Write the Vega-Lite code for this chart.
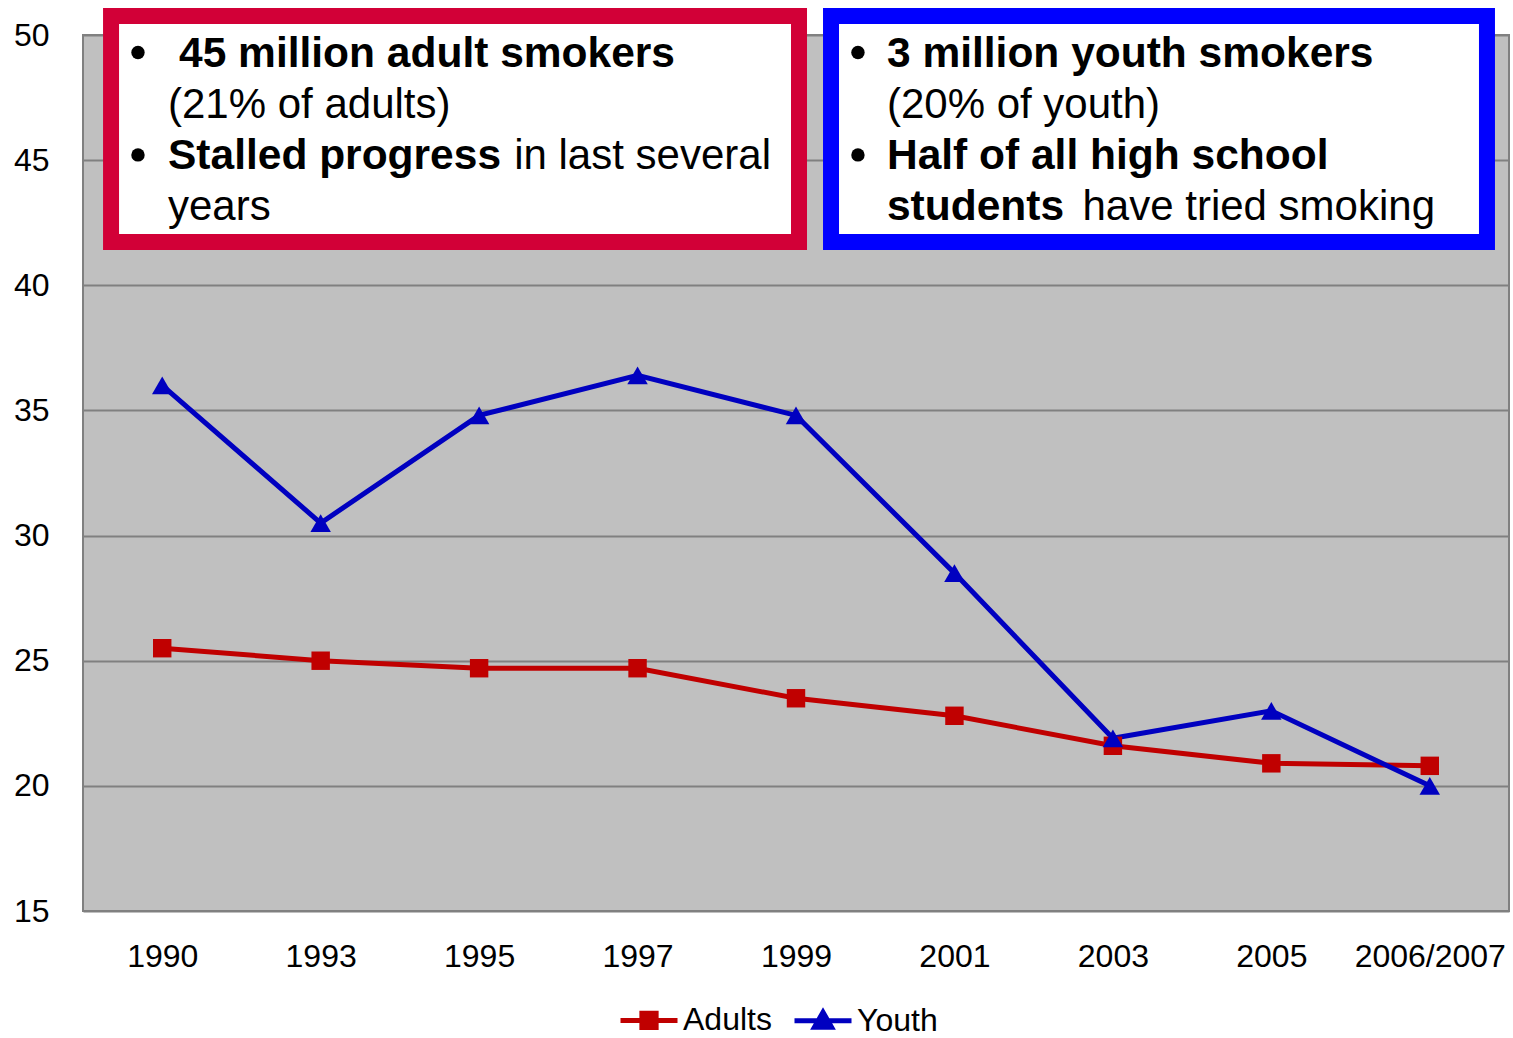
{
  "$schema": "https://vega.github.io/schema/vega-lite/v6.json",
  "width": 1426,
  "height": 876,
  "autosize": "none",
  "padding": {"left": 83, "top": 35, "right": 4, "bottom": 127},
  "background": "white",
  "config": {
    "view": {"fill": "#C0C0C0", "stroke": "#808080", "strokeWidth": 2},
    "font": "Liberation Sans"
  },
  "resolve": {"scale": {"x": "independent"}, "axis": {"x": "independent"}},
  "layer": [
    {
      "data": {
        "values": [
          {"year": "1990", "group": "Adults", "value": 25.5},
          {"year": "1993", "group": "Adults", "value": 25.0},
          {"year": "1995", "group": "Adults", "value": 24.7},
          {"year": "1997", "group": "Adults", "value": 24.7},
          {"year": "1999", "group": "Adults", "value": 23.5},
          {"year": "2001", "group": "Adults", "value": 22.8},
          {"year": "2003", "group": "Adults", "value": 21.6},
          {"year": "2005", "group": "Adults", "value": 20.9},
          {"year": "2006/2007", "group": "Adults", "value": 20.8},
          {"year": "1990", "group": "Youth", "value": 36.0},
          {"year": "1993", "group": "Youth", "value": 30.5},
          {"year": "1995", "group": "Youth", "value": 34.8},
          {"year": "1997", "group": "Youth", "value": 36.4},
          {"year": "1999", "group": "Youth", "value": 34.8},
          {"year": "2001", "group": "Youth", "value": 28.5},
          {"year": "2003", "group": "Youth", "value": 21.9},
          {"year": "2005", "group": "Youth", "value": 23.0},
          {"year": "2006/2007", "group": "Youth", "value": 20.0}
        ]
      },
      "encoding": {
        "x": {
          "field": "year", "type": "ordinal", "sort": null,
          "scale": {"type": "point", "padding": 0.5},
          "axis": {
            "title": null, "labelAngle": 0, "domain": false, "ticks": false, "grid": false,
            "labelFont": "Liberation Sans",
            "labelFontSize": 32, "labelColor": "#000000", "labelPadding": 30
          }
        },
        "y": {
          "field": "value", "type": "quantitative",
          "scale": {"domain": [15, 50], "nice": false, "zero": false},
          "axis": {
            "title": null, "values": [15, 20, 25, 30, 35, 40, 45, 50],
            "domain": false, "ticks": false, "grid": true,
            "gridColor": "#808080", "gridWidth": 2, "gridOpacity": 1,
            "labelFont": "Liberation Sans",
            "labelFontSize": 32, "labelColor": "#000000", "labelPadding": 34
          }
        },
        "color": {
          "field": "group", "type": "nominal",
          "scale": {"domain": ["Adults", "Youth"], "range": ["#C00000", "#0000C0"]},
          "legend": {
            "orient": "none", "legendX": 535, "legendY": 954,
            "direction": "horizontal", "title": null,
            "labelFont": "Liberation Sans",
            "labelFontSize": 32, "labelColor": "#000000",
            "symbolSize": 3249, "symbolStrokeWidth": 5, "labelOffset": 3,
            "columnPadding": 12,
            "encode": {
              "symbols": {
                "update": {
                  "shape": {"signal": "datum.value === 'Adults' ? 'M-1,0H1M-0.25,-0.25H0.25V0.25H-0.25Z' : 'M-1,0H1M0,-0.3L0.3,0.22H-0.3Z'"},
                  "fill": {"signal": "datum.value === 'Adults' ? '#C00000' : '#0000C0'"},
                  "stroke": {"signal": "datum.value === 'Adults' ? '#C00000' : '#0000C0'"},
                  "strokeWidth": {"value": 5},
                  "size": {"value": 3249},
                  "opacity": {"value": 1},
                  "fillOpacity": {"value": 1},
                  "strokeOpacity": {"value": 1}
                }
              }
            }
          }
        }
      },
      "layer": [
        {
          "mark": {"type": "line", "strokeWidth": 5}
        },
        {
          "transform": [{"filter": "datum.group === 'Adults'"}],
          "mark": {"type": "point", "shape": "square", "filled": true, "opacity": 1, "size": 340}
        },
        {
          "transform": [{"filter": "datum.group === 'Youth'"}],
          "mark": {"type": "point", "shape": "triangle-up", "filled": true, "opacity": 1, "size": 420}
        }
      ]
    },
    {
      "data": {"values": [{}]},
      "layer": [
        {
          "mark": {"type": "rect", "fill": "#FFFFFF", "stroke": "#D20037", "strokeWidth": 16},
          "encoding": {
            "x": {"datum": 0.177, "type": "quantitative", "scale": {"domain": [0, 9]}, "axis": null},
            "x2": {"datum": 4.519},
            "y": {"datum": 50.76, "type": "quantitative"},
            "y2": {"datum": 41.73}
          }
        },
        {
          "mark": {"type": "rect", "fill": "#FFFFFF", "stroke": "#0000FF", "strokeWidth": 16},
          "encoding": {
            "x": {"datum": 4.721, "type": "quantitative", "scale": {"domain": [0, 9]}, "axis": null},
            "x2": {"datum": 8.861},
            "y": {"datum": 50.76, "type": "quantitative"},
            "y2": {"datum": 41.73}
          }
        },
        {
          "mark": {"type": "point", "shape": "circle", "filled": true, "color": "#000000", "opacity": 1, "size": 180},
          "encoding": {
            "x": {"datum": 0.347, "type": "quantitative", "scale": {"domain": [0, 9]}, "axis": null},
            "y": {"datum": 49.3, "type": "quantitative"}
          }
        },
        {
          "mark": {"type": "point", "shape": "circle", "filled": true, "color": "#000000", "opacity": 1, "size": 180},
          "encoding": {
            "x": {"datum": 0.347, "type": "quantitative", "scale": {"domain": [0, 9]}, "axis": null},
            "y": {"datum": 45.21, "type": "quantitative"}
          }
        },
        {
          "mark": {"type": "point", "shape": "circle", "filled": true, "color": "#000000", "opacity": 1, "size": 180},
          "encoding": {
            "x": {"datum": 4.891, "type": "quantitative", "scale": {"domain": [0, 9]}, "axis": null},
            "y": {"datum": 49.3, "type": "quantitative"}
          }
        },
        {
          "mark": {"type": "point", "shape": "circle", "filled": true, "color": "#000000", "opacity": 1, "size": 180},
          "encoding": {
            "x": {"datum": 4.891, "type": "quantitative", "scale": {"domain": [0, 9]}, "axis": null},
            "y": {"datum": 45.21, "type": "quantitative"}
          }
        },
        {
          "mark": {"type": "text", "text": "45 million adult smokers", "font": "Liberation Sans", "fontSize": 42.5, "fontWeight": "bold", "align": "left", "baseline": "alphabetic", "color": "#000000"},
          "encoding": {
            "x": {"datum": 0.606, "type": "quantitative", "scale": {"domain": [0, 9]}, "axis": null},
            "y": {"datum": 48.72, "type": "quantitative"}
          }
        },
        {
          "mark": {"type": "text", "text": "(21% of adults)", "font": "Liberation Sans", "fontSize": 42, "align": "left", "baseline": "alphabetic", "color": "#000000"},
          "encoding": {
            "x": {"datum": 0.5365, "type": "quantitative", "scale": {"domain": [0, 9]}, "axis": null},
            "y": {"datum": 46.68, "type": "quantitative"}
          }
        },
        {
          "mark": {"type": "text", "text": "Stalled progress", "font": "Liberation Sans", "fontSize": 42.5, "fontWeight": "bold", "align": "left", "baseline": "alphabetic", "color": "#000000"},
          "encoding": {
            "x": {"datum": 0.5365, "type": "quantitative", "scale": {"domain": [0, 9]}, "axis": null},
            "y": {"datum": 44.65, "type": "quantitative"}
          }
        },
        {
          "mark": {"type": "text", "text": "in last several", "font": "Liberation Sans", "fontSize": 42, "align": "right", "baseline": "alphabetic", "color": "#000000"},
          "encoding": {
            "x": {"datum": 4.342, "type": "quantitative", "scale": {"domain": [0, 9]}, "axis": null},
            "y": {"datum": 44.65, "type": "quantitative"}
          }
        },
        {
          "mark": {"type": "text", "text": "years", "font": "Liberation Sans", "fontSize": 42, "align": "left", "baseline": "alphabetic", "color": "#000000"},
          "encoding": {
            "x": {"datum": 0.5365, "type": "quantitative", "scale": {"domain": [0, 9]}, "axis": null},
            "y": {"datum": 42.61, "type": "quantitative"}
          }
        },
        {
          "mark": {"type": "text", "text": "3 million youth smokers", "font": "Liberation Sans", "fontSize": 42.5, "fontWeight": "bold", "align": "left", "baseline": "alphabetic", "color": "#000000"},
          "encoding": {
            "x": {"datum": 5.074, "type": "quantitative", "scale": {"domain": [0, 9]}, "axis": null},
            "y": {"datum": 48.72, "type": "quantitative"}
          }
        },
        {
          "mark": {"type": "text", "text": "(20% of youth)", "font": "Liberation Sans", "fontSize": 42, "align": "left", "baseline": "alphabetic", "color": "#000000"},
          "encoding": {
            "x": {"datum": 5.074, "type": "quantitative", "scale": {"domain": [0, 9]}, "axis": null},
            "y": {"datum": 46.68, "type": "quantitative"}
          }
        },
        {
          "mark": {"type": "text", "text": "Half of all high school", "font": "Liberation Sans", "fontSize": 42.5, "fontWeight": "bold", "align": "left", "baseline": "alphabetic", "color": "#000000"},
          "encoding": {
            "x": {"datum": 5.074, "type": "quantitative", "scale": {"domain": [0, 9]}, "axis": null},
            "y": {"datum": 44.65, "type": "quantitative"}
          }
        },
        {
          "mark": {"type": "text", "text": "students", "font": "Liberation Sans", "fontSize": 42.5, "fontWeight": "bold", "align": "left", "baseline": "alphabetic", "color": "#000000"},
          "encoding": {
            "x": {"datum": 5.074, "type": "quantitative", "scale": {"domain": [0, 9]}, "axis": null},
            "y": {"datum": 42.61, "type": "quantitative"}
          }
        },
        {
          "mark": {"type": "text", "text": "have tried smoking", "font": "Liberation Sans", "fontSize": 42, "align": "right", "baseline": "alphabetic", "color": "#000000"},
          "encoding": {
            "x": {"datum": 8.533, "type": "quantitative", "scale": {"domain": [0, 9]}, "axis": null},
            "y": {"datum": 42.61, "type": "quantitative"}
          }
        }
      ]
    }
  ]
}
